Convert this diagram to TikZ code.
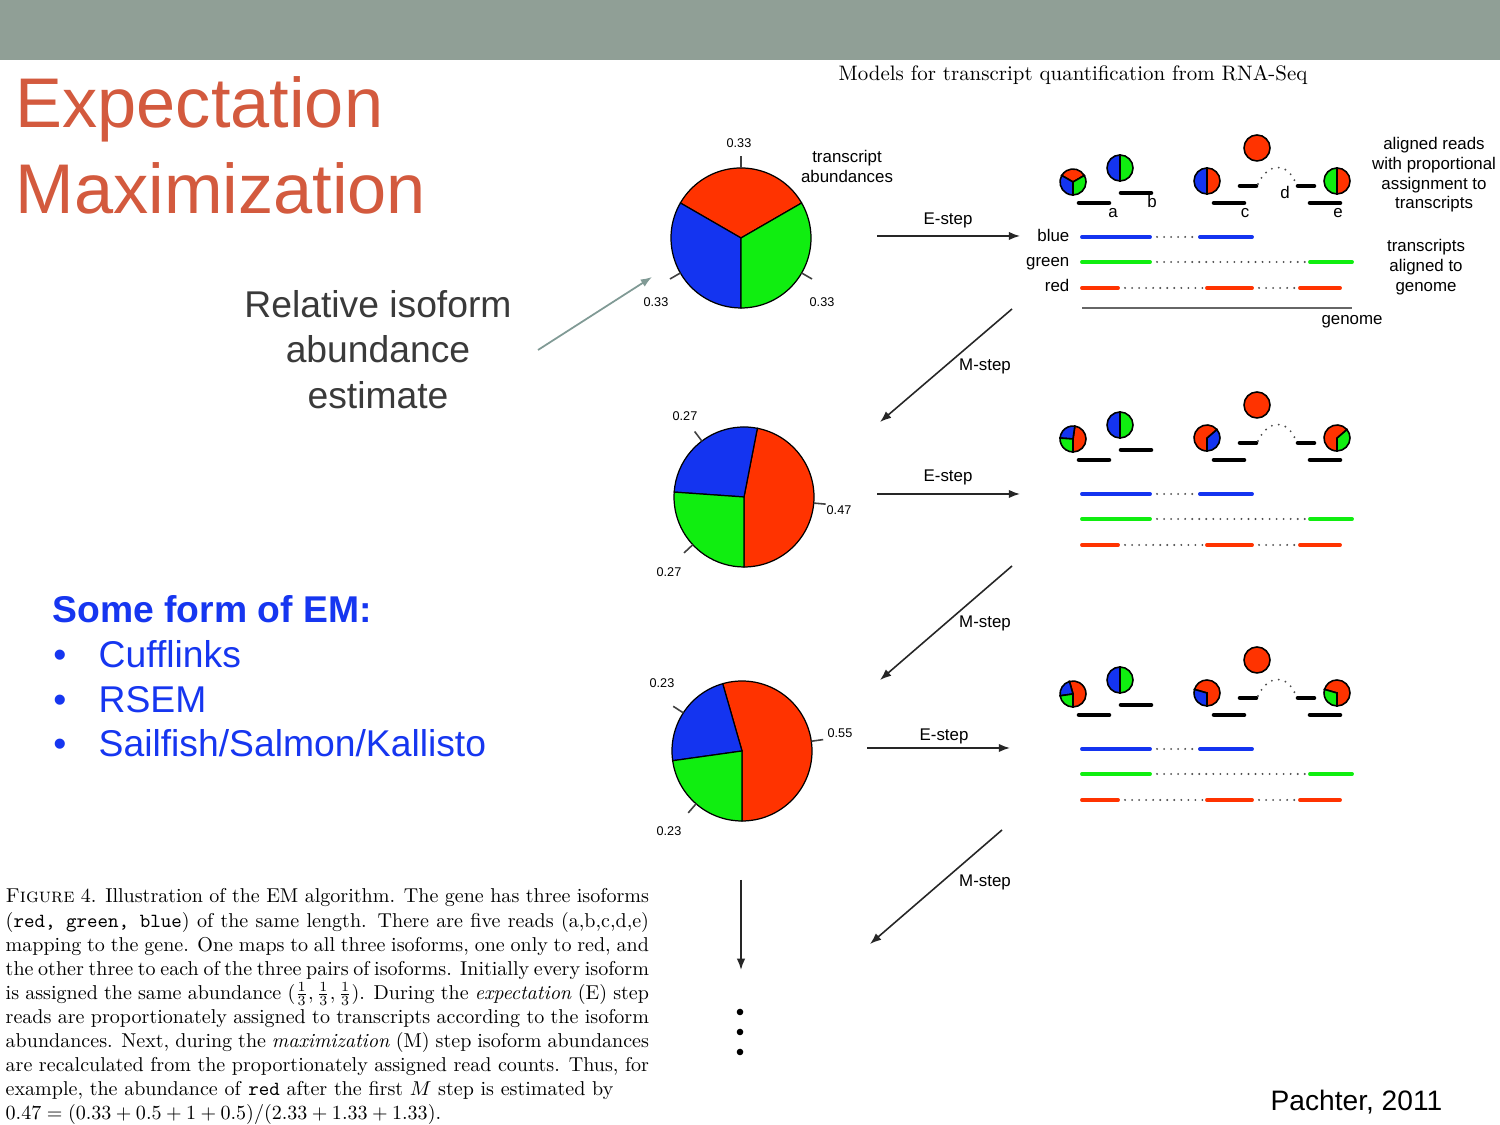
\documentclass[tikz,border=0pt]{standalone}
\usepackage{fontspec}
\setmainfont{lmroman10-regular.otf}[BoldFont=lmroman10-bold.otf, ItalicFont=lmroman10-italic.otf, BoldItalicFont=lmroman10-bolditalic.otf, SmallCapsFont=lmromancaps10-regular.otf]
\setmonofont{lmmono10-regular.otf}
\newfontfamily\slidefont{Liberation Sans}
\usetikzlibrary{arrows.meta}
\definecolor{headgray}{HTML}{909F96}
\definecolor{titlered}{HTML}{D35A3E}
\definecolor{emblue}{HTML}{1636F0}
\definecolor{textgray}{HTML}{3A3A3A}
\definecolor{pointer}{HTML}{809A95}
\definecolor{isored}{HTML}{FF3300}
\definecolor{isogreen}{HTML}{10EE10}
\definecolor{isoblue}{HTML}{1434F0}
\tikzset{>={Latex[length=3.2pt,width=2.4pt]}}
\tikzset{
  wedge/.style={draw=black, line width=0.35pt},
  smallwedge/.style={draw=black, line width=0.45pt},
  readbar/.style={line width=1.3pt, line cap=round},
  tx/.style={line width=1.1pt, line cap=round},
  txdot/.style={black!70, line width=0.6pt, line cap=round, dash pattern=on 0pt off 2pt},
  tick/.style={black!75, line width=0.45pt},
  steparrow/.style={->, black!85, line width=0.45pt},
  lbl/.style={font=\slidefont\fontsize{4.8}{5.55}\selectfont, inner sep=0},
  pielbl/.style={font=\slidefont\fontsize{3.6}{4}\selectfont, inner sep=0},
}
% pie wedges: start/end/colour
\newcommand{\bigpie}[2]{%
  \foreach \sa/\ea/\col in {#2}
    \filldraw[wedge,fill=\col] (#1) -- ++(\sa:70) arc[start angle=\sa,end angle=\ea,radius=70] -- cycle;}
\newcommand{\minipie}[3]{%
  \foreach \sa/\ea/\col in {#3}
    \filldraw[smallwedge,fill=\col] (#1,#2) -- ++(\sa:13) arc[start angle=\sa,end angle=\ea,radius=13] -- cycle;}
\newcommand{\lines}[2]{\parbox[t]{#1}{\centering #2}}
% one row of reads and transcripts, #1 = height of the blue transcript
\newcommand{\readrow}[4]{%
  \begin{scope}[shift={(0,#1)}]
    % reads
    \minipie{1073}{55}{#2}
    \minipie{1120}{69}{90/270/isoblue, -90/90/isogreen}
    \minipie{1207}{56}{#3}
    \filldraw[smallwedge,fill=isored] (1257,89) circle[radius=13];
    \minipie{1337}{56}{#4}
    \draw[readbar] (1079,34) -- (1109,34);
    \draw[readbar] (1121,44) -- (1151,44);
    \draw[readbar] (1214,34) -- (1244,34);
    \draw[readbar] (1240,51) -- (1256,51);
    \draw[readbar] (1298,51) -- (1314,51);
    \draw[readbar] (1310,34) -- (1340,34);
    \draw[txdot] (1258,53) .. controls (1268,75) and (1288,75) .. (1296,53);
    % transcripts
    \draw[txdot] (1150,0) -- (1200,0);
    \draw[tx,isoblue] (1082,0) -- (1150,0);
    \draw[tx,isoblue] (1200,0) -- (1252,0);
    \draw[txdot] (1150,-25) -- (1310,-25);
    \draw[tx,isogreen] (1082,-25) -- (1150,-25);
    \draw[tx,isogreen] (1310,-25) -- (1352,-25);
    \draw[txdot] (1118,-51) -- (1207,-51);
    \draw[txdot] (1252,-51) -- (1300,-51);
    \draw[tx,isored] (1082,-51) -- (1118,-51);
    \draw[tx,isored] (1207,-51) -- (1252,-51);
    \draw[tx,isored] (1300,-51) -- (1340,-51);
  \end{scope}}

\begin{document}
\begin{tikzpicture}[x=0.01cm,y=0.01cm]
  \useasboundingbox (0,0) rectangle (1500,1125);
  \fill[white] (0,0) rectangle (1500,1125);
  \fill[headgray] (0,1065) rectangle (1500,1125);

  % Slide text
  \node[anchor=base west, inner sep=0, text=titlered, font=\slidefont\fontsize{20}{24}\selectfont] (title1) at (15,997) {Expectation};
  \node[anchor=base west, inner sep=0, text=titlered, font=\slidefont\fontsize{20}{24}\selectfont] (title2) at (15,911) {Maximization};
  \node[anchor=base, inner sep=0, text=textgray] (relabund) at (378,807)
    {\lines{5cm}{\slidefont\fontsize{10.6}{12.8}\selectfont Relative isoform\\ abundance\\ estimate}};
  \node[anchor=base west, inner sep=0, text=emblue, font=\slidefont\bfseries\fontsize{10.6}{12.8}\selectfont] (emhead) at (52,502) {Some form of EM:};
  \foreach \ty/\tool [count=\i] in {457/Cufflinks, 412/RSEM, 368/{Sailfish/Salmon/Kallisto}} {
    \node[anchor=base, inner sep=0, text=emblue, font=\slidefont\fontsize{10.6}{12.8}\selectfont] (bul\i) at (60,\ty) {\textbullet};
    \node[anchor=base west, inner sep=0, text=emblue, font=\slidefont\fontsize{10.6}{12.8}\selectfont] (tool\i) at (98,\ty) {\tool};
  }
  \node[anchor=base west, inner sep=0, font=\slidefont\fontsize{8}{9.6}\selectfont] (cite) at (1270,14) {Pachter, 2011};
  \node[anchor=base west, inner sep=0, font=\fontsize{5.95}{7}\selectfont] (figtitle) at (838,1044) {Models for transcript quantification from RNA-Seq};

  % Caption
  \node[anchor=base west, inner sep=0] (caption) at (5,222) {\scalebox{0.57}{\parbox[t]{11.28cm}{\fontsize{10}{11.98}\selectfont
    \textsc{Figure} 4. Illustration of the EM algorithm. The gene has three isoforms\linebreak
    (\texttt{red, green, blue}) of the same length. There are five reads (a,b,c,d,e)\linebreak
    mapping to the gene. One maps to all three isoforms, one only to red, and\linebreak
    the other three to each of the three pairs of isoforms. Initially every isoform\linebreak
    is assigned the same abundance $(\frac13,\frac13,\frac13)$. During the \emph{expectation} (E) step\linebreak
    reads are proportionately assigned to transcripts according to the isoform\linebreak
    abundances. Next, during the \emph{maximization} (M) step isoform abundances\linebreak
    are recalculated from the proportionately assigned read counts. Thus, for\linebreak
    example, the abundance of \texttt{red} after the first $M$ step is estimated by\\
    $0.47=(0.33+0.5+1+0.5)/(2.33+1.33+1.33)$.}}};

  % Abundance pies
  \coordinate (pieA) at (741,887);
  \coordinate (pieB) at (744,628);
  \coordinate (pieC) at (742,374);
  \bigpie{pieA}{30/150/isored, 150/270/isoblue, 270/390/isogreen}
  \bigpie{pieB}{-90/79/isored, 79/176/isoblue, 176/270/isogreen}
  \bigpie{pieC}{-90/106/isored, 106/188/isoblue, 188/270/isogreen}
  \foreach \p/\ang in {pieA/90, pieA/210, pieA/330, pieB/127, pieB/223, pieB/-5, pieC/147, pieC/229, pieC/8}
    \draw[tick] (\p) ++(\ang:70) -- ++(\ang:12);
  \node[pielbl] (la1) at (739,982) {0.33};
  \node[pielbl] (la2) at (656,823) {0.33};
  \node[pielbl] (la3) at (822,823) {0.33};
  \node[pielbl] (lb1) at (685,709) {0.27};
  \node[pielbl] (lb2) at (669,553) {0.27};
  \node[pielbl] (lb3) at (839,615) {0.47};
  \node[pielbl] (lc1) at (662,442) {0.23};
  \node[pielbl] (lc2) at (669,294) {0.23};
  \node[pielbl] (lc3) at (840,392) {0.55};
  \node[lbl, anchor=base] (abund) at (847,962) {\lines{2cm}{transcript\\ abundances}};

  % Reads and transcripts
  \readrow{888}{30/150/isored, 150/270/isoblue, 270/390/isogreen}{-90/90/isored, 90/270/isoblue}{-90/90/isored, 90/270/isogreen}
  \readrow{631}{-90/82/isored, 82/176/isoblue, 176/270/isogreen}{-90/41/isoblue, 41/270/isored}{-90/41/isogreen, 41/270/isored}
  \readrow{376}{-90/106/isored, 106/188/isoblue, 188/270/isogreen}{-90/164/isored, 164/270/isoblue}{-90/164/isored, 164/270/isogreen}
  \draw[black!60, line width=0.4pt] (1082,817) -- (1352,817);
  \node[lbl, anchor=base east] (tblue) at (1070,883) {blue};
  \node[lbl, anchor=base east] (tgreen) at (1070,858) {green};
  \node[lbl, anchor=base east] (tred) at (1070,833) {red};
  \node[lbl, anchor=base] (genome) at (1352,800) {genome};
  \node[lbl, anchor=base] (ra) at (1113,907) {a};
  \node[lbl, anchor=base] (rb) at (1152,917) {b};
  \node[lbl, anchor=base] (rc) at (1245,907) {c};
  \node[lbl, anchor=base] (rd) at (1285,926) {d};
  \node[lbl, anchor=base] (re) at (1338,907) {e};
  \node[lbl, anchor=base] (alnreads) at (1434,975) {\lines{2.2cm}{aligned reads\\ with proportional\\ assignment to\\ transcripts}};
  \node[lbl, anchor=base] (alngenome) at (1426,873) {\lines{2cm}{transcripts\\ aligned to\\ genome}};

  % E and M steps
  \coordinate (e1s) at (877,889);  \coordinate (e1t) at (1020,889);
  \coordinate (e2s) at (877,631);  \coordinate (e2t) at (1020,631);
  \coordinate (e3s) at (867,377);  \coordinate (e3t) at (1010,377);
  \coordinate (m1s) at (1012,816); \coordinate (m1t) at (880,703);
  \coordinate (m2s) at (1012,559); \coordinate (m2t) at (880,445);
  \coordinate (m3s) at (1002,295); \coordinate (m3t) at (870,181);
  \draw[steparrow] (e1s) -- (e1t);
  \draw[steparrow] (e2s) -- (e2t);
  \draw[steparrow] (e3s) -- (e3t);
  \draw[steparrow] (m1s) -- (m1t);
  \draw[steparrow] (m2s) -- (m2t);
  \draw[steparrow] (m3s) -- (m3t);
  \node[lbl] (es1) at (948,905) {E-step};
  \node[lbl] (es2) at (948,648) {E-step};
  \node[lbl] (es3) at (944,389) {E-step};
  \node[lbl] (ms1) at (985,759) {M-step};
  \node[lbl] (ms2) at (985,502) {M-step};
  \node[lbl] (ms3) at (985,243) {M-step};

  % Iteration continues
  \coordinate (dtop) at (741,245);
  \coordinate (dend) at (741,155);
  \draw[steparrow] (dtop) -- (dend);
  \foreach \dy in {113,93,73}
    \fill (740,\dy) circle[radius=3.3];

  % Pointer to the estimate
  \coordinate (ptrs) at (538,775);
  \coordinate (ptrt) at (652,848);
  \draw[->, pointer, line width=0.5pt] (ptrs) -- (ptrt);
\end{tikzpicture}
\end{document}
